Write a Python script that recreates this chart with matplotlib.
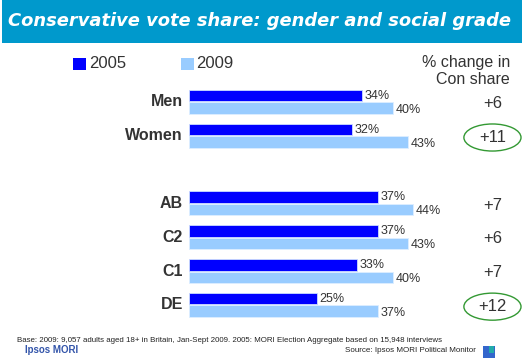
import matplotlib
matplotlib.use("Agg")
from matplotlib import pyplot as plt
from matplotlib.patches import Rectangle, Ellipse

plt.rcParams['font.family'] = ['Liberation Sans', 'DejaVu Sans']

categories = ['Men', 'Women', 'AB', 'C2', 'C1', 'DE']
positions = [0, 1, 3, 4, 5, 6]
share_2005 = [34, 32, 37, 37, 33, 25]
share_2009 = [40, 43, 44, 43, 40, 37]
changes = ['+6', '+11', '+7', '+6', '+7', '+12']
circled = ['Women', 'DE']

DARK = '#0000FF'
LIGHT = '#99CCFF'
TXT = '#333333'

fig = plt.figure(figsize=(5.25, 3.6), dpi=100)
W, H = 525.0, 360.0

# title banner
fig.patches.append(Rectangle((2 / W, 1 - 43 / H), 520 / W, 43 / H, transform=fig.transFigure,
                             facecolor='#0099CC', edgecolor='none'))
fig.text(8 / W, 1 - 21 / H, 'Conservative vote share: gender and social grade', color='white',
         fontsize=12.9, fontweight='bold', style='italic', va='center', ha='left',
         family=['DejaVu Sans'])

# bars axes
ax = fig.add_axes([189 / W, 1 - 330 / H, 306 / W, 250 / H])
ax.set_xlim(0, 60)
ax.set_ylim(6.74, -0.65)
ax.axis('off')

bh = 0.34
off = 0.185
ax.barh([p - off for p in positions], share_2005, height=bh, color=DARK, edgecolor='#ccddff', linewidth=0.6)
ax.barh([p + off for p in positions], share_2009, height=bh, color=LIGHT, edgecolor='#ddeeff', linewidth=0.6)

for p, cat, a, b, ch in zip(positions, categories, share_2005, share_2009, changes):
    ax.text(a + 0.5, p - off, '%d%%' % a, fontsize=9, color=TXT, va='center', ha='left')
    ax.text(b + 0.5, p + off + 0.05, '%d%%' % b, fontsize=9, color=TXT, va='center', ha='left')
    ax.text(-1.2, p, cat, fontsize=11.5, fontweight='bold', color=TXT, va='center', ha='right',
            clip_on=False)
    ax.text(59.5, p + 0.05, ch, fontsize=12, color=TXT, va='center', ha='center', clip_on=False)
    if cat in circled:
        ax.add_patch(Ellipse((59.5, p + 0.05), 11.2, 0.8, fill=False, edgecolor='#339933',
                             linewidth=1.0, clip_on=False))

# legend
fig.patches.append(Rectangle((73 / W, 1 - 70 / H), 13 / W, 12 / H, transform=fig.transFigure,
                             facecolor=DARK, edgecolor='none'))
fig.text(89 / W, 1 - 64 / H, '2005', fontsize=12, color=TXT, va='center', ha='left')
fig.patches.append(Rectangle((181 / W, 1 - 70 / H), 13 / W, 12 / H, transform=fig.transFigure,
                             facecolor=LIGHT, edgecolor='none'))
fig.text(196 / W, 1 - 64 / H, '2009', fontsize=12, color=TXT, va='center', ha='left')

fig.text(510 / W, 1 - 62 / H, '% change in', fontsize=11.5, color=TXT, va='center', ha='right')
fig.text(510 / W, 1 - 80 / H, 'Con share', fontsize=11.5, color=TXT, va='center', ha='right')

# footer
fig.text(17 / W, 1 - 341 / H,
         'Base: 2009: 9,057 adults aged 18+ in Britain, Jan-Sept 2009. 2005: MORI Election Aggregate based on 15,948 interviews',
         fontsize=5.7, color='#222222', va='center', ha='left')
fig.text(25 / W, 1 - 350 / H, 'Ipsos MORI', fontsize=7, color='#3355AA', fontweight='bold',
         va='center', ha='left')
fig.text(476 / W, 1 - 350 / H, 'Source: Ipsos MORI Political Monitor', fontsize=5.8, color='#222222',
         va='center', ha='right')
fig.patches.append(Rectangle((483 / W, 1 - 358 / H), 12 / W, 12 / H, transform=fig.transFigure,
                             facecolor='#3366CC', edgecolor='none'))
fig.patches.append(Rectangle((489 / W, 1 - 353 / H), 5 / W, 7 / H, transform=fig.transFigure,
                             facecolor='#22AAAA', edgecolor='none'))

fig.savefig('out.png', dpi=100)
